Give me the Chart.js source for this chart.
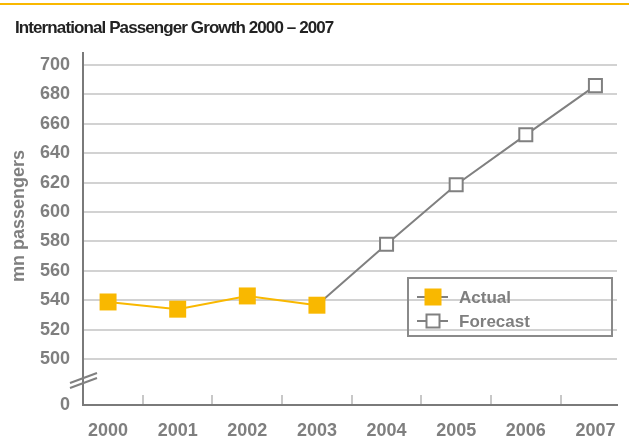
<!DOCTYPE html>
<html>
<head>
<meta charset="utf-8">
<script src="https://cdn.jsdelivr.net/npm/chart.js@4.4.1/dist/chart.umd.min.js"></script>
<style>
  html, body { margin: 0; padding: 0; background: #fff; }
  canvas { display: block; }
</style>
</head>
<body>
<canvas id="chart" width="629" height="447"></canvas>
<script>
// data
const chartTitle = 'International Passenger Growth 2000 – 2007';
const yTitle = 'mn passengers';
const years = [2000, 2001, 2002, 2003, 2004, 2005, 2006, 2007];
const actual = [538.8, 533.9, 542.9, 536.6, null, null, null, null];
const forecast = [null, null, null, 536.6, 578, 618.6, 652.5, 686];
const yTicks = [500, 520, 540, 560, 580, 600, 620, 640, 660, 680, 700];
const breakLabel = '0';
const seriesNames = ['Actual', 'Forecast'];

const ORANGE = '#f9b800';
const LINE_GREY = '#808080';
const TEXT_GREY = '#7f7f7f';
const GRID = '#d2d2d2';
const Y_MIN = 468.7, Y_MAX = 708.2;
const X_MIN = 1999.64, X_MAX = 2007.31;

Chart.defaults.font.family = "'Liberation Sans', Arial, sans-serif";

function toPoints(vals) {
  return years.map((yr, i) => ({ x: yr, y: vals[i] })).filter(p => p.y !== null);
}

const decor = {
  id: 'decor',
  afterDraw(chart) {
    const ctx = chart.ctx;
    const area = chart.chartArea;
    const xs = chart.scales.x, ys = chart.scales.y;
    ctx.save();

    // orange rule across the top
    ctx.fillStyle = ORANGE;
    ctx.fillRect(0, 3, chart.width, 2);

    // title
    ctx.fillStyle = '#222';
    ctx.font = "bold 17px 'Liberation Sans', Arial, sans-serif";
    ctx.letterSpacing = '-0.9px';
    ctx.textAlign = 'left';
    ctx.textBaseline = 'alphabetic';
    ctx.fillText(chartTitle, 15, 33);
    ctx.letterSpacing = '0px';

    // y axis title
    ctx.save();
    ctx.translate(19, 216);
    ctx.rotate(-Math.PI / 2);
    ctx.fillStyle = TEXT_GREY;
    ctx.font = "bold 18px 'Liberation Sans', Arial, sans-serif";
    ctx.textAlign = 'center';
    ctx.textBaseline = 'middle';
    ctx.fillText(yTitle, 0, 0);
    ctx.restore();

    // small tick marks between the years, pointing up
    ctx.strokeStyle = '#c8c8c8';
    ctx.lineWidth = 2;
    for (let i = 0; i < years.length - 1; i++) {
      const x = Math.round(xs.getPixelForValue(years[i] + 0.5));
      ctx.beginPath();
      ctx.moveTo(x, area.bottom - 1);
      ctx.lineTo(x, area.bottom - 10);
      ctx.stroke();
    }

    // axis break marks
    const bx = area.left, by = ys.getPixelForValue(485.4);
    ctx.strokeStyle = LINE_GREY;
    ctx.lineWidth = 2;
    [-2.5, 2.5].forEach(d => {
      ctx.beginPath();
      ctx.moveTo(bx - 13, by + d + 5);
      ctx.lineTo(bx + 14, by + d - 5);
      ctx.stroke();
    });

    // legend box inside the plot
    const lx = area.right - 209, ly = area.top + 225, lw = 204, lh = 58;
    ctx.strokeStyle = '#8a8a8a';
    ctx.lineWidth = 2;
    ctx.strokeRect(lx, ly, lw, lh);
    ctx.font = "bold 17px 'Liberation Sans', Arial, sans-serif";
    ctx.textAlign = 'left';
    ctx.textBaseline = 'middle';
    chart.data.datasets.forEach((ds, i) => {
      const cy = ly + 19 + i * 24;
      const cx = lx + 25;
      ctx.strokeStyle = LINE_GREY;
      ctx.lineWidth = 2;
      ctx.beginPath();
      ctx.moveTo(lx + 9, cy);
      ctx.lineTo(lx + 40, cy);
      ctx.stroke();
      if (i === 0) {
        ctx.fillStyle = ds.pointBackgroundColor;
        ctx.fillRect(cx - 8.5, cy - 8.5, 17, 17);
      } else {
        ctx.fillStyle = ds.pointBackgroundColor;
        ctx.fillRect(cx - 6.5, cy - 6.5, 13, 13);
        ctx.strokeStyle = ds.pointBorderColor;
        ctx.strokeRect(cx - 6.5, cy - 6.5, 13, 13);
      }
      ctx.fillStyle = TEXT_GREY;
      ctx.fillText(ds.label, lx + 51, cy + 1);
    });

    ctx.restore();
  }
};

new Chart(document.getElementById('chart'), {
  type: 'line',
  data: {
    datasets: [
      {
        label: seriesNames[0],
        data: toPoints(actual),
        borderColor: ORANGE,
        borderWidth: 2,
        pointStyle: 'rect',
        pointRadius: 12,
        pointBackgroundColor: ORANGE,
        pointBorderColor: ORANGE,
        pointBorderWidth: 0
      },
      {
        label: seriesNames[1],
        data: toPoints(forecast),
        borderColor: LINE_GREY,
        borderWidth: 2,
        pointStyle: 'rect',
        pointRadius: ctx => (actual[years.indexOf(ctx.raw.x)] !== null ? 0 : 9.2),
        pointBackgroundColor: '#fff',
        pointBorderColor: LINE_GREY,
        pointBorderWidth: 2
      }
    ]
  },
  options: {
    responsive: false,
    animation: false,
    layout: { padding: { top: 53, right: 7, left: 0, bottom: 0 } },
    plugins: {
      legend: { display: false },
      title: { display: false },
      tooltip: { enabled: false }
    },
    scales: {
      x: {
        type: 'linear',
        min: X_MIN,
        max: X_MAX,
        afterBuildTicks: s => { s.ticks = years.map(v => ({ value: v })); },
        afterFit: s => { s.height = 42; s.paddingLeft = 0; s.paddingRight = 0; },
        grid: { display: false, drawTicks: false },
        border: { display: true, color: '#7a7a7a', width: 2 },
        ticks: {
          padding: 15,
          color: TEXT_GREY,
          font: { size: 18, weight: 'bold' },
          callback: v => String(v)
        }
      },
      y: {
        min: Y_MIN,
        max: Y_MAX,
        afterBuildTicks: s => {
          s.ticks = [{ value: Y_MIN }].concat(yTicks.map(v => ({ value: v })));
        },
        afterFit: s => { s.width = 83; s.paddingTop = 0; s.paddingBottom = 0; },
        grid: {
          drawTicks: false,
          lineWidth: 2,
          color: c => (c.tick && c.tick.value === Y_MIN ? 'rgba(0,0,0,0)' : GRID)
        },
        border: { display: true, color: '#7a7a7a', width: 2 },
        ticks: {
          padding: 13,
          color: TEXT_GREY,
          font: { size: 18, weight: 'bold' },
          callback: v => (v === Y_MIN ? breakLabel : String(v))
        }
      }
    }
  },
  plugins: [decor]
});
</script>
</body>
</html>
